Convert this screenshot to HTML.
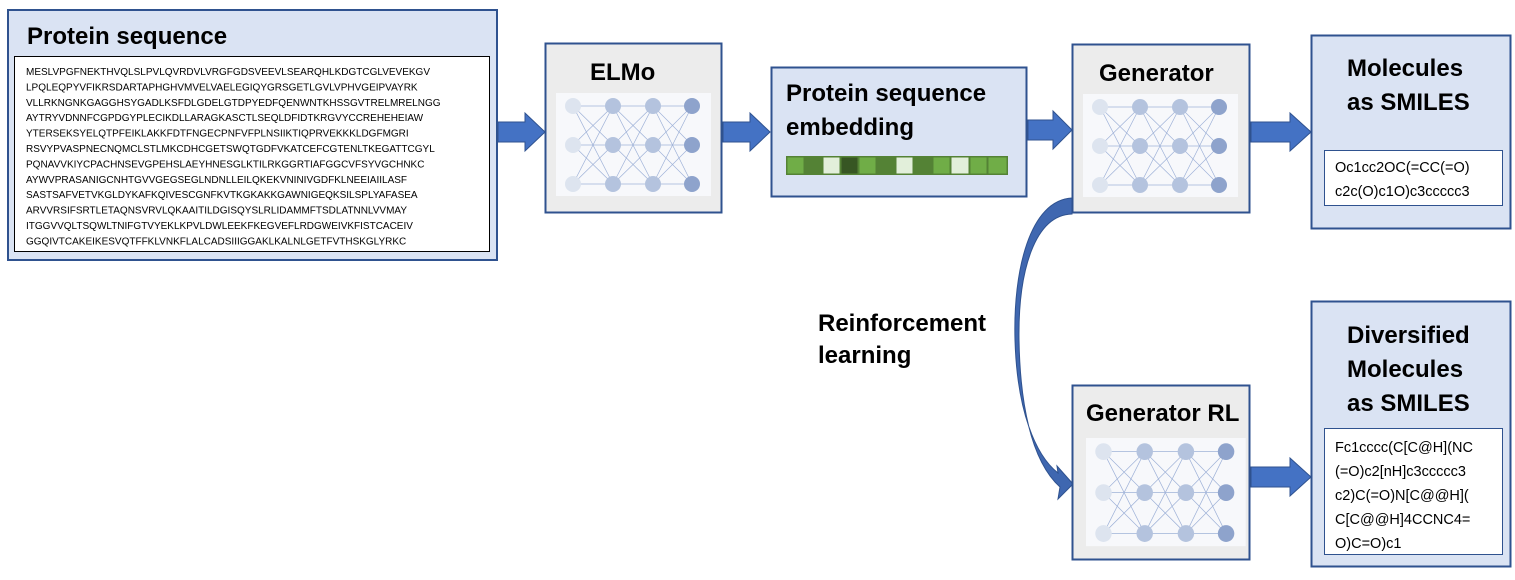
<!DOCTYPE html>
<html><head><meta charset="utf-8"><style>
html,body{margin:0;padding:0;background:#fff;}
svg{display:block;}
text{font-family:"Liberation Sans",sans-serif;}
.t{font-weight:bold;font-size:24px;fill:#000;}
.seq{font-size:10px;fill:#000;}
.sm{font-size:14.5px;fill:#000;}
</style></head><body>
<svg width="1515" height="580" viewBox="0 0 1515 580" xmlns="http://www.w3.org/2000/svg">
<defs>
<g id="nn">
<rect x="0" y="0" width="155" height="103" fill="#f7f8fb"/>
<g stroke="#9fb2d8" stroke-width="0.7" fill="none">
<path d="M17 13L57 13M17 52L57 52M17 91L57 91M57 13L97 13M57 52L97 52M57 91L97 91M97 13L136 13M97 52L136 52M97 91L136 91"/>
<path d="M17 13L57 52M17 13L57 91M17 52L57 13M17 52L57 91M17 91L57 13M17 91L57 52"/>
<path d="M57 13L97 52M57 13L97 91M57 52L97 13M57 52L97 91M57 91L97 13M57 91L97 52"/>
<path d="M97 13L136 52M97 13L136 91M97 52L136 13M97 52L136 91M97 91L136 13M97 91L136 52"/>
</g>
<g fill="#dde4ef"><circle cx="17" cy="13" r="8"/><circle cx="17" cy="52" r="8"/><circle cx="17" cy="91" r="8"/></g>
<g fill="#b4c3de"><circle cx="57" cy="13" r="8"/><circle cx="57" cy="52" r="8"/><circle cx="57" cy="91" r="8"/><circle cx="97" cy="13" r="8"/><circle cx="97" cy="52" r="8"/><circle cx="97" cy="91" r="8"/></g>
<g fill="#8ea3cc"><circle cx="136" cy="13" r="8"/><circle cx="136" cy="52" r="8"/><circle cx="136" cy="91" r="8"/></g>
</g>
</defs>

<rect x="8" y="10" width="489" height="250" fill="#dae3f3" stroke="#2f528f" stroke-width="2"/>
<text x="27" y="44" class="t">Protein sequence</text>
<rect x="14.5" y="56.5" width="475" height="195" fill="#fff" stroke="#000" stroke-width="1"/>
<g class="seq">
<text x="26" y="75">MESLVPGFNEKTHVQLSLPVLQVRDVLVRGFGDSVEEVLSEARQHLKDGTCGLVEVEKGV</text>
<text x="26" y="90.4">LPQLEQPYVFIKRSDARTAPHGHVMVELVAELEGIQYGRSGETLGVLVPHVGEIPVAYRK</text>
<text x="26" y="105.8">VLLRKNGNKGAGGHSYGADLKSFDLGDELGTDPYEDFQENWNTKHSSGVTRELMRELNGG</text>
<text x="26" y="121.2">AYTRYVDNNFCGPDGYPLECIKDLLARAGKASCTLSEQLDFIDTKRGVYCCREHEHEIAW</text>
<text x="26" y="136.6">YTERSEKSYELQTPFEIKLAKKFDTFNGECPNFVFPLNSIIKTIQPRVEKKKLDGFMGRI</text>
<text x="26" y="152">RSVYPVASPNECNQMCLSTLMKCDHCGETSWQTGDFVKATCEFCGTENLTKEGATTCGYL</text>
<text x="26" y="167.4">PQNAVVKIYCPACHNSEVGPEHSLAEYHNESGLKTILRKGGRTIAFGGCVFSYVGCHNKC</text>
<text x="26" y="182.8">AYWVPRASANIGCNHTGVVGEGSEGLNDNLLEILQKEKVNINIVGDFKLNEEIAIILASF</text>
<text x="26" y="198.2">SASTSAFVETVKGLDYKAFKQIVESCGNFKVTKGKAKKGAWNIGEQKSILSPLYAFASEA</text>
<text x="26" y="213.6">ARVVRSIFSRTLETAQNSVRVLQKAAITILDGISQYSLRLIDAMMFTSDLATNNLVVMAY</text>
<text x="26" y="229">ITGGVVQLTSQWLTNIFGTVYEKLKPVLDWLEEKFKEGVEFLRDGWEIVKFISTCACEIV</text>
<text x="26" y="244.4">GGQIVTCAKEIKESVQTFFKLVNKFLALCADSIIIGGAKLKALNLGETFVTHSKGLYRKC</text>
</g>

<g fill="#4472c4" stroke="#2f528f" stroke-width="1">
<path d="M498 122H525V113L545 132L525 151V142H498Z"/>
<path d="M723 122H750V113L770 132L750 151V142H723Z"/>
<path d="M1028 120H1053V111L1072 130L1053 149V140H1028Z"/>
<path d="M1251 122H1290V113L1311 132L1290 151V142H1251Z"/>
<path d="M1251 467H1290V458L1311 477L1290 496V487H1251Z"/>
</g>

<rect x="545.5" y="43.5" width="176" height="169" fill="#ececec" stroke="#2f528f" stroke-width="2"/>
<text x="590" y="80" class="t">ELMo</text>
<use href="#nn" x="556" y="93"/>

<rect x="771.5" y="67.5" width="255" height="129" fill="#dae3f3" stroke="#2f528f" stroke-width="2"/>
<text x="786" y="101" class="t">Protein sequence</text>
<text x="786" y="135" class="t">embedding</text>
<rect x="786" y="156" width="222" height="19" fill="#548235"/>
<g stroke="#548235" stroke-width="1">
<rect x="787" y="157" width="17" height="17" fill="#70ad47"/>
<rect x="805" y="157" width="17" height="17" fill="#548235"/>
<rect x="823" y="157" width="17" height="17" fill="#e2efda"/>
<rect x="841" y="157" width="17" height="17" fill="#375623"/>
<rect x="859" y="157" width="17" height="17" fill="#70ad47"/>
<rect x="877" y="157" width="18" height="17" fill="#548235"/>
<rect x="896" y="157" width="17" height="17" fill="#e2efda"/>
<rect x="914" y="157" width="18" height="17" fill="#548235"/>
<rect x="933" y="157" width="17" height="17" fill="#70ad47"/>
<rect x="951" y="157" width="18" height="17" fill="#e2efda"/>
<rect x="970" y="157" width="17" height="17" fill="#70ad47"/>
<rect x="988" y="157" width="19" height="17" fill="#70ad47"/>
</g>

<rect x="1072.5" y="44.5" width="177" height="168" fill="#ececec" stroke="#2f528f" stroke-width="2"/>
<text x="1099" y="81" class="t">Generator</text>
<use href="#nn" x="1083" y="94"/>

<rect x="1311.5" y="35.5" width="199" height="193" fill="#dae3f3" stroke="#2f528f" stroke-width="2"/>
<text x="1347" y="76" class="t">Molecules</text>
<text x="1347" y="110" class="t">as SMILES</text>
<rect x="1324.5" y="150.5" width="178" height="55" fill="#fff" stroke="#2f528f" stroke-width="1"/>
<text x="1335" y="172" class="sm">Oc1cc2OC(=CC(=O)</text>
<text x="1335" y="196" class="sm">c2c(O)c1O)c3ccccc3</text>

<path d="M1072 198 C1030 200 1013 270 1015 340 C1017 410 1035 455 1058 473 L1057 466 L1073 484 L1058 499 L1060 487 C1030 460 1020 400 1019 340 C1018 270 1035 215 1072 214 Z" fill="#3f67b0" stroke="#2f528f" stroke-width="1"/>

<text x="818" y="331" class="t">Reinforcement</text>
<text x="818" y="363" class="t">learning</text>

<rect x="1072.5" y="385.5" width="177" height="174" fill="#ececec" stroke="#2f528f" stroke-width="2"/>
<text x="1086" y="421" class="t">Generator RL</text>
<use href="#nn" transform="translate(1086,438) scale(1.03,1.05)"/>

<rect x="1311.5" y="301.5" width="199" height="265" fill="#dae3f3" stroke="#2f528f" stroke-width="2"/>
<text x="1347" y="343" class="t">Diversified</text>
<text x="1347" y="377" class="t">Molecules</text>
<text x="1347" y="411" class="t">as SMILES</text>
<rect x="1324.5" y="428.5" width="178" height="126" fill="#fff" stroke="#2f528f" stroke-width="1"/>
<text x="1335" y="452" class="sm">Fc1cccc(C[C@H](NC</text>
<text x="1335" y="476" class="sm">(=O)c2[nH]c3ccccc3</text>
<text x="1335" y="500" class="sm">c2)C(=O)N[C@@H](</text>
<text x="1335" y="524" class="sm">C[C@@H]4CCNC4=</text>
<text x="1335" y="548" class="sm">O)C=O)c1</text>
</svg>
</body></html>
